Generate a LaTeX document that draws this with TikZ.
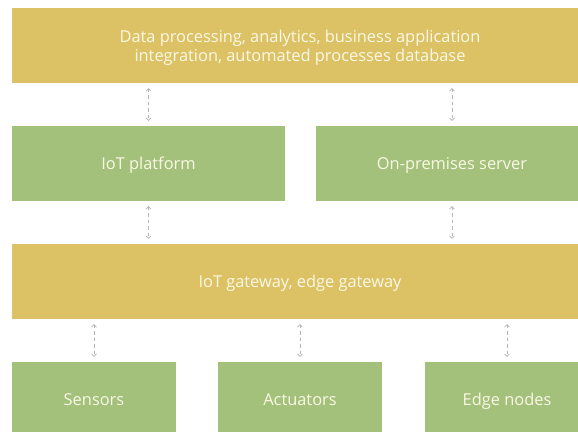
\documentclass[tikz,border=0pt]{standalone}
\usepackage{fontspec}
\setmainfont{Open Sans}
\usepackage{tikz}
\usetikzlibrary{arrows.meta}

\definecolor{layeryellow}{HTML}{DCC265}
\definecolor{layergreen}{HTML}{A3C17B}
\definecolor{layertext}{HTML}{FAF8E6}
\definecolor{linkgray}{HTML}{B4B4B8}

\tikzset{
    layer/.style={fill=layeryellow,minimum height=75pt,inner sep=0pt,text depth=0pt,text=layertext,align=center,font=\fontsize{16.4}{19}\selectfont},
    device/.style={layer,fill=layergreen},
    link/.style={draw=linkgray,dashed,dash pattern=on 3.5pt off 3pt,line width=0.6pt,{Straight Barb[length=2.5pt]}-{Straight Barb[length=2.5pt]},shorten <=5pt,shorten >=5pt}
}

\begin{document}
\begin{tikzpicture}[x=1pt,y=-1pt]
    \useasboundingbox[fill=white](0,0) rectangle (578,431);
    % layers, top to bottom
    \node[layer,minimum width=576pt] (apps) at (300,45.5){Data processing, analytics, business application\\integration, automated processes database};
    \node[device,minimum width=273pt] (platform) at (148.5,163.5){IoT platform};
    \node[device,minimum width=272pt] (server) at (452,163.5){On-premises server};
    \node[layer,minimum width=576pt] (gateway) at (300,281.5){IoT gateway, edge gateway};
    \node[device,minimum width=164pt] (sensors) at (94,399.5){Sensors};
    \node[device,minimum width=164pt] (actuators) at (300,399.5){Actuators};
    \node[device,minimum width=164pt] (edge) at (507,399.5){Edge nodes};
    % connections
    \draw[link](apps.south -| platform)--(platform.north);
    \draw[link](apps.south -| server)--(server.north);
    \draw[link](platform.south)--(platform.south |- gateway.north);
    \draw[link](server.south)--(server.south |- gateway.north);
    \draw[link](gateway.south -| sensors)--(sensors.north);
    \draw[link](gateway.south -| actuators)--(actuators.north);
    \draw[link](gateway.south -| edge)--(edge.north);
\end{tikzpicture}
\end{document}
